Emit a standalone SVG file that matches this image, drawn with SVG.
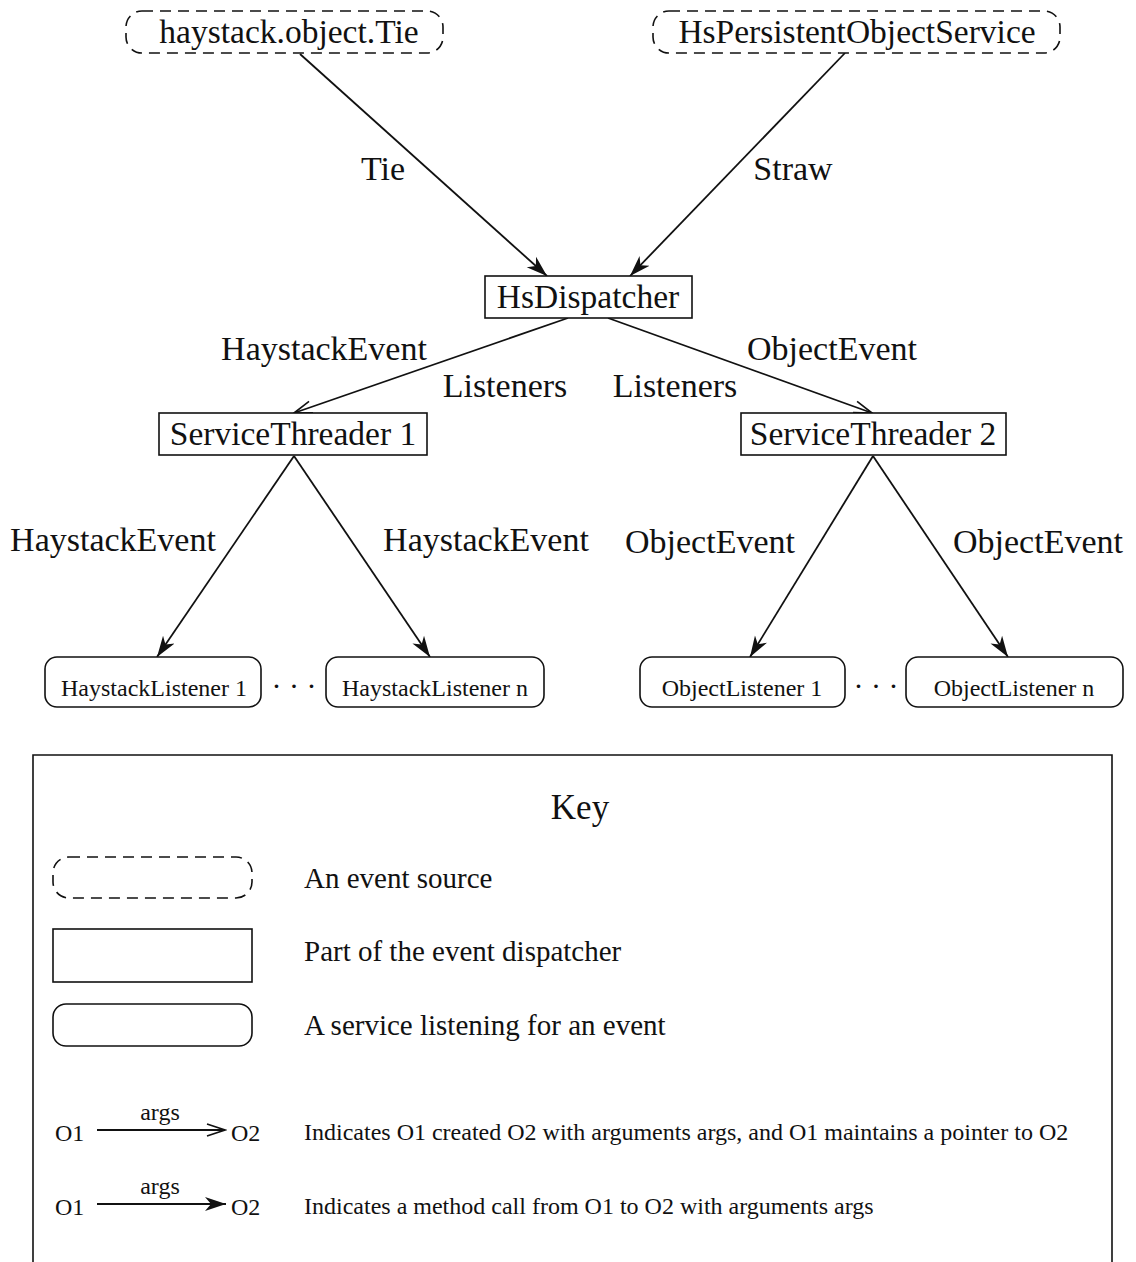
<svg xmlns="http://www.w3.org/2000/svg" width="1136" height="1262" viewBox="0 0 1136 1262">
  <style>
    text { font-family: "Liberation Serif", "Times New Roman", serif; fill: #111; }
    .big { font-size: 33.5px; }
    .lbl { font-size: 34px; }
    .small { font-size: 24px; }
    .dots { font-size: 30px; }
    .key { font-size: 29px; }
    .desc { font-size: 24px; }
    .source { fill: #fff; stroke: #111; stroke-width: 1.6; stroke-dasharray: 11 7; }
    .part { fill: #fff; stroke: #111; stroke-width: 1.6; }
    .service { fill: #fff; stroke: #111; stroke-width: 1.6; }
    .edge { stroke: #111; stroke-width: 1.8; fill: none; }
    .call { marker-end: url(#callHead); }
    .create { marker-end: url(#createHead); }
  </style>
  <defs>
    <!-- filled barbed head: method call -->
    <marker id="callHead" markerUnits="userSpaceOnUse" markerWidth="22" markerHeight="16" refX="21" refY="8" orient="auto">
      <path d="M0,1 L21,8 L0,15 L6,8 z" fill="#111"/>
    </marker>
    <!-- open stick head: creation with pointer -->
    <marker id="createHead" markerUnits="userSpaceOnUse" markerWidth="22" markerHeight="16" refX="20" refY="8" orient="auto">
      <path d="M2,2 L20,8 L2,14" fill="none" stroke="#111" stroke-width="1.6"/>
    </marker>
  </defs>

  <rect width="1136" height="1262" fill="#fff"/>

  <!-- connectors -->
  <g id="connectors">
    <line class="edge call" x1="300" y1="54" x2="547" y2="276"/>
    <line class="edge call" x1="845" y1="53" x2="630" y2="276"/>
    <line class="edge create" x1="568" y1="318" x2="294" y2="413"/>
    <line class="edge create" x1="608" y1="318" x2="872" y2="413"/>
    <line class="edge call" x1="294" y1="456" x2="157" y2="657"/>
    <line class="edge call" x1="294" y1="456" x2="430" y2="657"/>
    <line class="edge call" x1="873" y1="456" x2="750" y2="657"/>
    <line class="edge call" x1="873" y1="456" x2="1008" y2="657"/>
    <text class="lbl" x="383" y="180" text-anchor="middle">Tie</text>
    <text class="lbl" x="793" y="180" text-anchor="middle">Straw</text>
    <text class="lbl" x="324" y="360" text-anchor="middle">HaystackEvent</text>
    <text class="lbl" x="505" y="397" text-anchor="middle">Listeners</text>
    <text class="lbl" x="675" y="397" text-anchor="middle">Listeners</text>
    <text class="lbl" x="832" y="360" text-anchor="middle">ObjectEvent</text>
    <text class="lbl" x="113" y="551" text-anchor="middle">HaystackEvent</text>
    <text class="lbl" x="486" y="551" text-anchor="middle">HaystackEvent</text>
    <text class="lbl" x="710" y="553" text-anchor="middle">ObjectEvent</text>
    <text class="lbl" x="1038" y="553" text-anchor="middle">ObjectEvent</text>
  </g>

  <!-- event sources -->
  <g id="tie">
    <rect class="source" x="126" y="11" width="317" height="42" rx="16"/>
    <text class="big" x="289" y="43" text-anchor="middle">haystack.object.Tie</text>
  </g>
  <g id="persistentObjectService">
    <rect class="source" x="653" y="11" width="407" height="42" rx="16"/>
    <text class="big" x="857" y="43" text-anchor="middle">HsPersistentObjectService</text>
  </g>

  <!-- dispatcher parts -->
  <g id="dispatcher">
    <rect class="part" x="485" y="276" width="207" height="42"/>
    <text class="big" x="588" y="308" text-anchor="middle">HsDispatcher</text>
  </g>
  <g id="serviceThreader1">
    <rect class="part" x="159" y="413" width="268" height="42"/>
    <text class="big" x="293" y="445" text-anchor="middle">ServiceThreader 1</text>
  </g>
  <g id="serviceThreader2">
    <rect class="part" x="741" y="413" width="265" height="42"/>
    <text class="big" x="873" y="445" text-anchor="middle">ServiceThreader 2</text>
  </g>

  <!-- listening services -->
  <g id="haystackListener1">
    <rect class="service" x="45" y="657" width="216" height="50" rx="12"/>
    <text class="small" x="154" y="696" text-anchor="middle">HaystackListener 1</text>
  </g>
  <g id="haystackDots">
    <text class="dots" x="294" y="696" text-anchor="middle">· · ·</text>
  </g>
  <g id="haystackListenerN">
    <rect class="service" x="326" y="657" width="218" height="50" rx="12"/>
    <text class="small" x="435" y="696" text-anchor="middle">HaystackListener n</text>
  </g>
  <g id="objectListener1">
    <rect class="service" x="640" y="657" width="205" height="50" rx="12"/>
    <text class="small" x="742" y="696" text-anchor="middle">ObjectListener 1</text>
  </g>
  <g id="objectDots">
    <text class="dots" x="876" y="696" text-anchor="middle">· · ·</text>
  </g>
  <g id="objectListenerN">
    <rect class="service" x="906" y="657" width="217" height="50" rx="12"/>
    <text class="small" x="1014" y="696" text-anchor="middle">ObjectListener n</text>
  </g>

  <!-- legend -->
  <g id="key">
    <path d="M33,1270 V755 H1112 V1270" fill="none" stroke="#111" stroke-width="1.6"/>
    <text x="580" y="819" text-anchor="middle" style="font-size:35px">Key</text>

    <rect class="source" x="53" y="857" width="199" height="41" rx="16"/>
    <text class="key" x="304" y="888">An event source</text>

    <rect class="part" x="53" y="929" width="199" height="53"/>
    <text class="key" x="304" y="961">Part of the event dispatcher</text>

    <rect class="service" x="53" y="1004" width="199" height="42" rx="13"/>
    <text class="key" x="304" y="1035">A service listening for an event</text>

    <text class="desc" x="55" y="1141">O1</text>
    <line class="edge create" x1="97" y1="1130" x2="225" y2="1130"/>
    <text class="desc" x="160" y="1120" text-anchor="middle">args</text>
    <text class="desc" x="231" y="1141">O2</text>
    <text class="desc" x="304" y="1140">Indicates O1 created O2 with arguments args, and O1 maintains a pointer to O2</text>

    <text class="desc" x="55" y="1215">O1</text>
    <line class="edge call" x1="97" y1="1204" x2="226" y2="1204"/>
    <text class="desc" x="160" y="1194" text-anchor="middle">args</text>
    <text class="desc" x="231" y="1215">O2</text>
    <text class="desc" x="304" y="1214">Indicates a method call from O1 to O2 with arguments args</text>
  </g>
</svg>
